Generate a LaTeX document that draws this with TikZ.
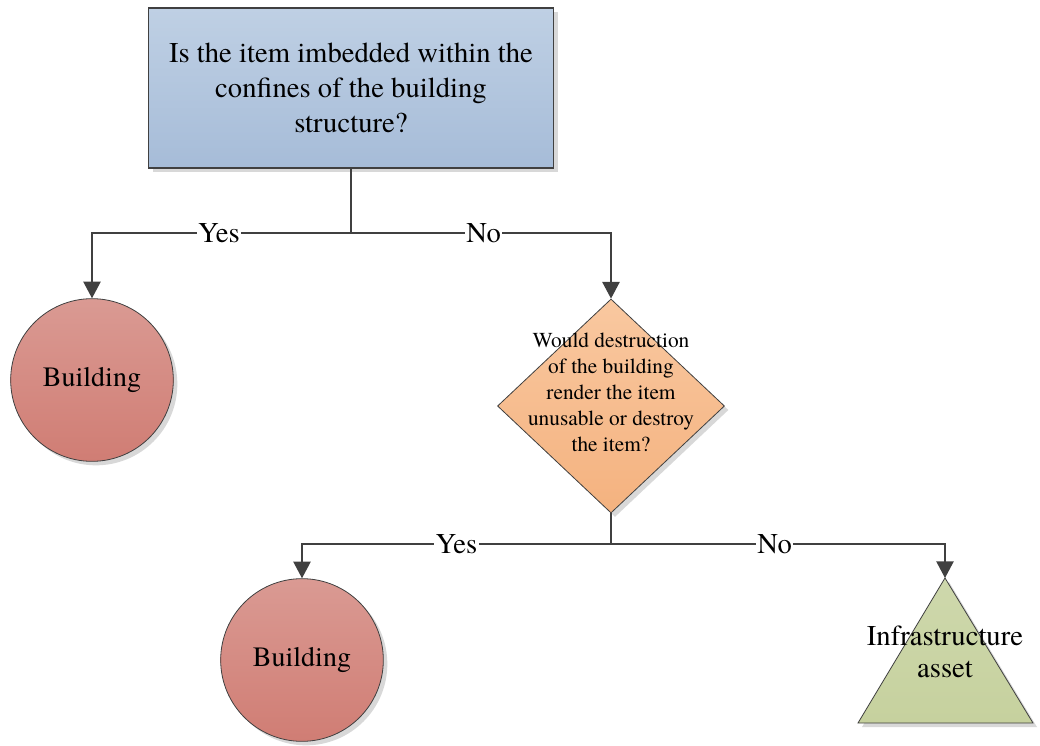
\documentclass[tikz,border=0pt]{standalone}
\usepackage{fontspec}
\setmainfont{TeX Gyre Termes}
\newfontfamily\tnr{TeX Gyre Termes}
\usetikzlibrary{shapes.geometric,arrows.meta,shadows}
\definecolor{linec}{HTML}{404040}
\definecolor{shadowc}{HTML}{D8D8D8}
\definecolor{blueT}{HTML}{BFD0E4}
\definecolor{blueB}{HTML}{A6BCD8}
\definecolor{redT}{HTML}{DA9A93}
\definecolor{redB}{HTML}{D07D74}
\definecolor{orT}{HTML}{F9C8A0}
\definecolor{orB}{HTML}{F4B27F}
\definecolor{grT}{HTML}{CED8AC}
\definecolor{grB}{HTML}{C6D19E}
\tikzset{
  shad/.style={drop shadow={shadow xshift=3pt,shadow yshift=-3pt,fill=shadowc,opacity=1}},
  boxq/.style={draw=linec,line width=0.8pt,rectangle,minimum width=303.75pt,minimum height=120pt,
    top color=blueT,bottom color=blueB,shad,align=center,inner sep=0pt,
    font=\tnr\fontsize{21.5}{26.25}\selectfont},
  bld/.style={draw=linec,line width=0.6pt,circle,minimum size=122pt,inner sep=0pt,
    top color=redT,bottom color=redB,shad,font=\tnr\fontsize{21}{26}\selectfont},
  dia/.style={draw=linec,line width=0.6pt,diamond,minimum width=170.25pt,minimum height=160.5pt,
    inner sep=0pt,top color=orT,bottom color=orB,shad},
  diatext/.style={align=center,font=\tnr\fontsize{16}{19.5}\selectfont,inner sep=0pt},
  tritext/.style={align=center,font=\tnr\fontsize{21.5}{23.5}\selectfont,inner sep=0pt},
  conn/.style={draw=linec,line width=1.1pt},
  arr/.style={conn,-{Triangle[width=13pt,length=12.5pt]}},
  lab/.style={fill=white,inner sep=1pt,font=\tnr\fontsize{21.5}{24}\selectfont,text=black}
}
\begin{document}
\begin{tikzpicture}[x=0.75pt,y=-0.75pt]
\useasboundingbox (0,0) rectangle (1040,746);
% nodes
\node[boxq] (top) at (351,88) {Is the item imbedded within the\\confines of the building\\structure?};
\node[bld] (b1) at (92,380) {Building};
\node[dia] (d) at (611,406) {};
\node[diatext] (dt) at (611,392) {Would destruction\\of the building\\render the item\\unusable or destroy\\the item?};
\node[bld] (b2) at (302,660) {Building};
% triangle
\fill[shadowc] (949,582) -- (1037,727) -- (862,727) -- cycle;
\draw[linec,line width=0.6pt,top color=grT,bottom color=grB] (945,578) -- (1033,723) -- (858,723) -- cycle;
\coordinate (tri) at (945,578);
\node[tritext] (tt) at (945,652) {Infrastructure\\asset};
% junctions
\coordinate (j1) at (351,233);
\coordinate (j2) at (611,544);
% connectors
\draw[conn] (top.south) -- (j1);
\draw[arr] (j1) -| node[lab,pos=0.255]{Yes} (b1.north);
\draw[arr] (j1) -| node[lab,pos=0.255]{No} (d.north);
\draw[conn] (d.south) -- (j2);
\draw[arr] (j2) -| node[lab,pos=0.25]{Yes} (b2.north);
\draw[arr] (j2) -| node[lab,pos=0.245]{No} (tri);
\end{tikzpicture}
\end{document}
